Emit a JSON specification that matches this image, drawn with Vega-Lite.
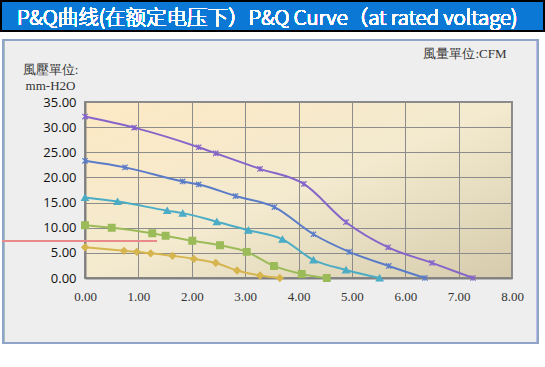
{
  "$schema": "https://vega.github.io/schema/vega-lite/v6.json",
  "width": 427,
  "height": 176,
  "autosize": {"type": "none"},
  "padding": {"left": 85, "top": 102, "right": 33, "bottom": 89},
  "background": "#eeeeee",
  "title": {"text": "PQ Curve", "font": "Lato", "fontSize": 18.5, "fontWeight": "bold", "color": "#000000", "anchor": "middle", "dx": -27, "offset": 25, "baseline": "alphabetic"},
  "config": {
    "view": {
      "fill": {"gradient": "linear", "x1": 0, "y1": 0, "x2": 1, "y2": 1, "stops": [{"offset": 0, "color": "#fde9c4"}, {"offset": 0.5, "color": "#f3eacf"}, {"offset": 1, "color": "#d6cbac"}]},
      "stroke": "#8a8a8a",
      "strokeWidth": 2
    }
  },
  "data": {"values": [
    {"s": "A", "x": 0, "y": 32.1}, {"s": "A", "x": 0.92, "y": 29.9}, {"s": "A", "x": 2.13, "y": 26.0}, {"s": "A", "x": 2.45, "y": 24.8}, {"s": "A", "x": 3.28, "y": 21.7}, {"s": "A", "x": 4.1, "y": 18.7}, {"s": "A", "x": 4.89, "y": 11.1}, {"s": "A", "x": 5.68, "y": 6.1}, {"s": "A", "x": 6.5, "y": 3.0}, {"s": "A", "x": 7.27, "y": 0},
    {"s": "B", "x": 0, "y": 23.3}, {"s": "B", "x": 0.75, "y": 22.0}, {"s": "B", "x": 1.83, "y": 19.2}, {"s": "B", "x": 2.13, "y": 18.6}, {"s": "B", "x": 2.82, "y": 16.3}, {"s": "B", "x": 3.55, "y": 14.1}, {"s": "B", "x": 4.28, "y": 8.7}, {"s": "B", "x": 4.95, "y": 5.2}, {"s": "B", "x": 5.69, "y": 2.4}, {"s": "B", "x": 6.37, "y": 0},
    {"s": "C", "x": 0, "y": 16.0}, {"s": "C", "x": 0.61, "y": 15.2}, {"s": "C", "x": 1.54, "y": 13.4}, {"s": "C", "x": 1.83, "y": 12.9}, {"s": "C", "x": 2.47, "y": 11.2}, {"s": "C", "x": 3.06, "y": 9.5}, {"s": "C", "x": 3.7, "y": 7.7}, {"s": "C", "x": 4.28, "y": 3.6}, {"s": "C", "x": 4.89, "y": 1.6}, {"s": "C", "x": 5.52, "y": 0},
    {"s": "D", "x": 0, "y": 10.5}, {"s": "D", "x": 0.5, "y": 10.0}, {"s": "D", "x": 1.26, "y": 8.9}, {"s": "D", "x": 1.51, "y": 8.4}, {"s": "D", "x": 2.01, "y": 7.4}, {"s": "D", "x": 2.53, "y": 6.5}, {"s": "D", "x": 3.03, "y": 5.2}, {"s": "D", "x": 3.54, "y": 2.4}, {"s": "D", "x": 4.06, "y": 0.8}, {"s": "D", "x": 4.53, "y": 0},
    {"s": "E", "x": 0, "y": 6.1}, {"s": "E", "x": 0.73, "y": 5.4}, {"s": "E", "x": 0.97, "y": 5.2}, {"s": "E", "x": 1.23, "y": 4.9}, {"s": "E", "x": 1.64, "y": 4.4}, {"s": "E", "x": 2.04, "y": 3.8}, {"s": "E", "x": 2.45, "y": 3.0}, {"s": "E", "x": 2.85, "y": 1.5}, {"s": "E", "x": 3.28, "y": 0.5}, {"s": "E", "x": 3.65, "y": 0}
  ]},
  "encoding": {
    "x": {"field": "x", "type": "quantitative",
      "scale": {"domain": [0, 8], "nice": false, "zero": false},
      "axis": {"values": [0, 1, 2, 3, 4, 5, 6, 7, 8], "format": ".2f", "grid": true, "gridColor": "#8c8c8c", "gridWidth": 1, "ticks": false, "domain": true, "domainColor": "#808080", "domainWidth": 2, "labelFont": "Liberation Serif", "labelFontSize": 13, "labelColor": "#333333", "labelPadding": 12, "labelFlush": false,
        "title": "風量單位:CFM", "titleFont": "Liberation Serif", "titleFontSize": 13, "titleFontWeight": "normal", "titleColor": "#333333", "titleX": 421, "titleY": -221, "titleAlign": "right", "titleBaseline": "alphabetic", "titleAngle": 0}},
    "y": {"field": "y", "type": "quantitative",
      "scale": {"domain": [0, 35], "nice": false, "zero": false},
      "axis": {"values": [0, 5, 10, 15, 20, 25, 30, 35], "format": ".2f", "grid": true, "gridColor": "#8c8c8c", "gridWidth": 1, "ticks": false, "domain": true, "domainColor": "#808080", "domainWidth": 2, "labelFont": "Open Sans", "labelFontSize": 13, "labelColor": "#111111", "labelPadding": 9, "labelFlush": false,
        "title": ["風壓單位:", "mm-H2O"], "titleFont": "Liberation Serif", "titleFontSize": 13, "titleFontWeight": "normal", "titleColor": "#333333", "titleX": -35, "titleY": -29, "titleAlign": "center", "titleBaseline": "alphabetic", "titleAngle": 0, "titleLineHeight": 16}}
  },
  "layer": [
    {"mark": {"type": "rect", "filled": false, "stroke": "#ffffff", "strokeWidth": 60, "clip": false},
     "encoding": {"x": {"datum": -2.098, "type": "quantitative"}, "x2": {"datum": 9.049}, "y": {"datum": 53.3, "type": "quantitative"}, "y2": {"datum": -18.89}}},
    {"mark": {"type": "rect", "filled": false, "stroke": "#8fa4c6", "strokeWidth": 2, "clip": false},
     "encoding": {"x": {"datum": -1.536, "type": "quantitative"}, "x2": {"datum": 8.487}, "y": {"datum": 47.33, "type": "quantitative"}, "y2": {"datum": -12.93}}},
    {"mark": {"type": "rect", "fill": "#0b78d6", "stroke": "#000000", "strokeWidth": 2, "clip": false},
     "encoding": {"x": {"datum": -1.574, "type": "quantitative"}, "x2": {"datum": 8.6}, "y": {"datum": 55.09, "type": "quantitative"}, "y2": {"datum": 49.12}}},
    {"mark": {"type": "text", "text": "P&Q曲线(在额定电压下）P&Q Curve（at rated voltage)", "font": "Noto Sans CJK SC", "fontSize": 20.5, "fontWeight": 300, "color": "#ffffff", "align": "left", "baseline": "middle", "clip": false},
     "encoding": {"x": {"datum": -1.274, "type": "quantitative"}, "y": {"datum": 51.5, "type": "quantitative"}}},
    {"mark": {"type": "rule", "color": "#e88a8a", "strokeWidth": 1, "clip": false},
     "encoding": {"x": {"datum": -1.54, "type": "quantitative"}, "x2": {"datum": 1.349}, "y": {"datum": 7.42, "type": "quantitative"}}},
    {"mark": {"type": "line", "strokeWidth": 2, "interpolate": "monotone"},
     "encoding": {"color": {"field": "s", "type": "nominal", "legend": null,
       "scale": {"domain": ["A", "B", "C", "D", "E"], "range": ["#8565c9", "#5a7cc8", "#4bacc6", "#9bbb59", "#d6b54e"]}}}},
    {"mark": {"type": "point", "filled": true, "opacity": 1, "strokeWidth": 1.2},
     "encoding": {
       "color": {"field": "s", "type": "nominal", "legend": null,
         "scale": {"domain": ["A", "B", "C", "D", "E"], "range": ["#8565c9", "#5a7cc8", "#4bacc6", "#9bbb59", "#d6b54e"]}},
       "stroke": {"field": "s", "type": "nominal", "legend": null,
         "scale": {"domain": ["A", "B", "C", "D", "E"], "range": ["#8565c9", "#5a7cc8", "#4bacc6", "#9bbb59", "#d6b54e"]}},
       "shape": {"field": "s", "type": "nominal", "legend": null,
         "scale": {"domain": ["A", "B", "C", "D", "E"], "range": ["M-0.8,-0.8L0.8,0.8M-0.8,0.8L0.8,-0.8M0,-0.8L0,0.8", "M-0.8,-0.8L0.8,0.8M-0.8,0.8L0.8,-0.8M0,-0.8L0,0.8", "triangle-up", "square", "diamond"]}},
       "size": {"value": 45}}}
  ]
}
